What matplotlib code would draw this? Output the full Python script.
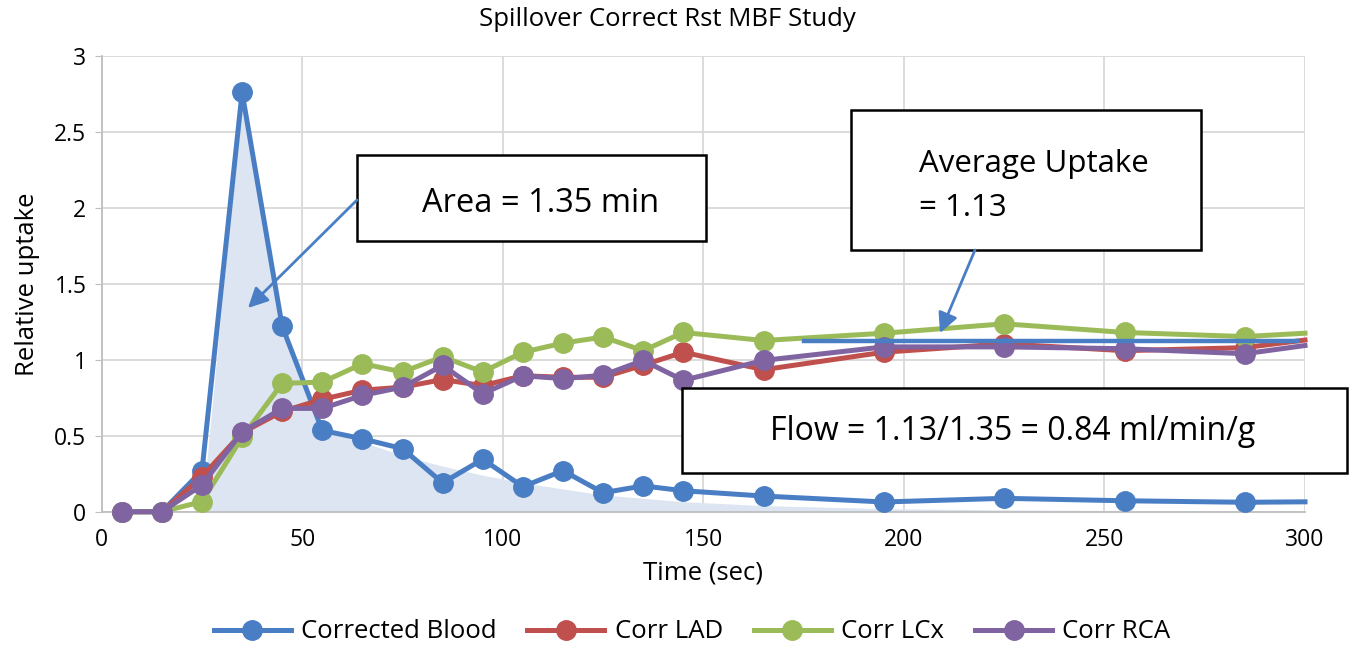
import matplotlib
matplotlib.use("Agg")
from matplotlib import pyplot as plt
from matplotlib.patches import Rectangle, FancyArrowPatch
from matplotlib.ticker import FuncFormatter

plt.rcParams['font.family'] = ['Open Sans', 'DejaVu Sans']

# time points (sec)
t = [5, 15, 25, 35, 45, 55, 65, 75, 85, 95, 105, 115, 125, 135, 145, 165,
     195, 225, 255, 285, 300]

blood = [0, 0, 0.27, 2.76, 1.22, 0.535, 0.48, 0.415, 0.19, 0.345, 0.165,
         0.27, 0.125, 0.17, 0.138, 0.103, 0.064, 0.088, 0.072, 0.062, 0.065]
lad = [0, 0, 0.23, 0.52, 0.66, 0.74, 0.8, 0.82, 0.87, 0.83, 0.895, 0.885,
       0.885, 0.965, 1.05, 0.935, 1.05, 1.105, 1.06, 1.08, 1.13]
lcx = [0, 0, 0.066, 0.49, 0.845, 0.853, 0.974, 0.92, 1.02, 0.92, 1.05, 1.11,
       1.15, 1.06, 1.18, 1.127, 1.175, 1.237, 1.18, 1.153, 1.175]
rca = [0, 0, 0.175, 0.525, 0.68, 0.68, 0.766, 0.82, 0.963, 0.777, 0.895,
       0.876, 0.898, 0.996, 0.865, 0.996, 1.085, 1.085, 1.073, 1.04, 1.094]

# smoothed area under the blood curve (shaded)
fit_t = [25, 35, 45, 55, 65, 75, 85, 95, 105, 115, 125, 145, 165, 195, 225,
         255, 300]
fit_y = [0, 2.76, 1.22, 0.535, 0.46, 0.37, 0.30, 0.24, 0.19, 0.15, 0.11,
         0.066, 0.04, 0.02, 0.012, 0.008, 0.005]

# average uptake level
avg_t = [175, 298]
avg_y = [1.123, 1.123]

series = [("Corrected Blood", blood, "#4A7EC4"),
          ("Corr LAD", lad, "#C0504D"),
          ("Corr LCx", lcx, "#9BBB59"),
          ("Corr RCA", rca, "#8064A2")]

W, H = 1365, 652
fig = plt.figure(figsize=(W / 100, H / 100), dpi=100)
ax = fig.add_axes([101.7 / W, 1 - 511.7 / H, (1305 - 101.7) / W, (511.7 - 56) / H])


def px(x, y):
    # pixel from top-left -> figure fraction
    return x / W, 1 - y / H


ax.fill_between(fit_t, fit_y, 0, color="#DCE5F1", lw=0, zorder=1)

for name, vals, col in series:
    ax.plot(t, vals, color=col, lw=3.6, marker="o", ms=14, label=name,
            markevery=slice(0, len(t) - 1), solid_joinstyle="round",
            clip_on=False, zorder=3)

ax.plot(avg_t, avg_y, color="#4A7EC4", lw=3.2, zorder=4)

ax.set_xlim(0, 300)
ax.set_ylim(0, 3)
ax.set_xticks(range(0, 301, 50))
ax.set_yticks([0, 0.5, 1, 1.5, 2, 2.5, 3])
ax.yaxis.set_major_formatter(FuncFormatter(lambda v, p: f"{v:g}"))
ax.grid(True, color="#D9D9D9", lw=1.3)
ax.set_axisbelow(True)
for s in ["top", "right"]:
    ax.spines[s].set_visible(False)
for s in ["left", "bottom"]:
    ax.spines[s].set_color("#BFBFBF")
    ax.spines[s].set_linewidth(1.3)
ax.tick_params(axis="y", length=5, color="#BFBFBF", labelsize=16.5, pad=6)
ax.tick_params(axis="x", length=0, labelsize=16.5, pad=12)
ax.set_xlabel("Time (sec)", fontsize=18.5, labelpad=6)
ax.set_ylabel("Relative uptake", fontsize=18.5, labelpad=10)
fig.text(*px(667, 19), "Spillover Correct Rst MBF Study", ha="center",
         va="center", fontsize=18.5)

# annotation boxes
boxes = [(357, 155, 706, 241), (851, 110, 1201, 250), (682, 388, 1347, 473)]
for x0, y0, x1, y1 in boxes:
    fig.add_artist(Rectangle(px(x0, y1), (x1 - x0) / W, (y1 - y0) / H,
                             transform=fig.transFigure, facecolor="white",
                             edgecolor="black", lw=1.8, zorder=5))

fig.text(*px(541, 204), "Area = 1.35 min", ha="center", va="center",
         fontsize=23.5, zorder=6)
fig.text(*px(919, 164), "Average Uptake", ha="left", va="center",
         fontsize=22.5, zorder=6)
fig.text(*px(919, 208), "= 1.13", ha="left", va="center", fontsize=22.5,
         zorder=6)
fig.text(*px(1013, 432), "Flow = 1.13/1.35 = 0.84 ml/min/g", ha="center",
         va="center", fontsize=23, zorder=6)

for (xa, ya), (xb, yb) in [((357, 200), (248, 308)), ((975, 250), (940, 333))]:
    fig.add_artist(FancyArrowPatch(px(xa, ya), px(xb, yb),
                                   transform=fig.transFigure,
                                   arrowstyle="-|>,head_length=12,head_width=6",
                                   color="#4A7EC4", lw=2, zorder=6,
                                   shrinkA=0, shrinkB=0))

fig.legend(loc="center", bbox_to_anchor=(692 / W, 1 - 632 / H), ncol=4,
           frameon=False, fontsize=18.5, handlelength=3.0, columnspacing=1.2,
           handletextpad=0.4)

fig.savefig("out.png", dpi=100)
